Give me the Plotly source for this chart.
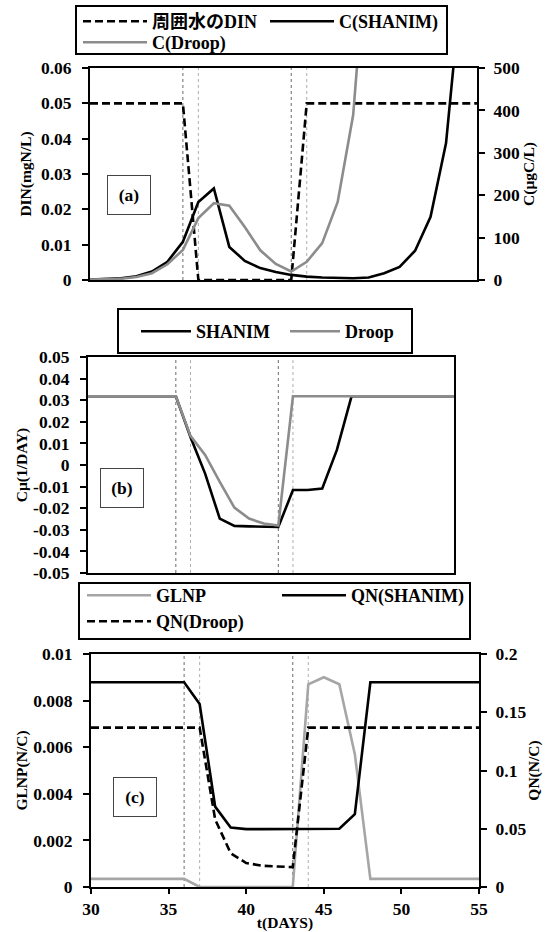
import plotly.graph_objects as go

# ---------------- data ----------------
days = [30, 31, 32, 33, 34, 35, 36, 37, 38, 39, 40, 41, 42, 43,
        44, 45, 46, 47, 48, 49, 50, 51, 52, 53, 54, 55]

# panel (a)
din = [0.05, 0.05, 0.05, 0.05, 0.05, 0.05, 0.05,
       0.0, 0.0, 0.0, 0.0, 0.0, 0.0, 0.0,
       0.05, 0.05, 0.05, 0.05, 0.05, 0.05, 0.05, 0.05, 0.05, 0.05, 0.05, 0.05]
c_shanim = [1, 2, 4, 9, 20, 43, 90, 184, 216, 78, 45, 28, 19, 12,
            8, 6, 5, 4, 6, 16, 31, 69, 149, 323, 700, 1500]
c_droop = [1, 2, 3, 7, 16, 37, 71, 146, 181, 175, 125, 70, 38, 20,
           43, 87, 184, 389, 850]

# panel (b)
mu_shanim = [0.0318, 0.0318, 0.0318, 0.0318, 0.0318, 0.0318, 0.0318,
             0.013, -0.004, -0.0248, -0.0282, -0.0284, -0.0284, -0.0287,
             -0.0116, -0.0116, -0.0109, 0.007,
             0.0318, 0.0318, 0.0318, 0.0318, 0.0318, 0.0318, 0.0318, 0.0318]
mu_droop = [0.0318, 0.0318, 0.0318, 0.0318, 0.0318, 0.0318, 0.0318,
            0.0135, 0.0047, -0.0078, -0.0197, -0.0248, -0.0271, -0.028,
            0.0318, 0.0318, 0.0318, 0.0318, 0.0318, 0.0318, 0.0318, 0.0318,
            0.0318, 0.0318, 0.0318, 0.0318]

# panel (c)
glnp = [0.00035, 0.00035, 0.00035, 0.00035, 0.00035, 0.00035, 0.00035,
        0.0, 0.0, 0.0, 0.0, 0.0, 0.0, 0.0,
        0.0087, 0.0090, 0.0087, 0.0057,
        0.00035, 0.00035, 0.00035, 0.00035, 0.00035, 0.00035, 0.00035, 0.00035]
qn_shanim = [0.1757, 0.1757, 0.1757, 0.1757, 0.1757, 0.1757, 0.1757,
             0.157, 0.069, 0.051, 0.0497, 0.0497, 0.0497, 0.0497,
             0.0497, 0.0497, 0.05, 0.0626,
             0.1757, 0.1757, 0.1757, 0.1757, 0.1757, 0.1757, 0.1757, 0.1757]
qn_droop = [0.1368, 0.1368, 0.1368, 0.1368, 0.1368, 0.1368, 0.1368, 0.1368,
            0.058, 0.029, 0.0206, 0.0183, 0.0176, 0.0171,
            0.1368, 0.1368, 0.1368, 0.1368, 0.1368, 0.1368, 0.1368, 0.1368,
            0.1368, 0.1368, 0.1368, 0.1368]

event_days_dark = [36, 43]
event_days_light = [37, 44]

# tick labels
din_ticks = [0, 0.01, 0.02, 0.03, 0.04, 0.05, 0.06]
din_ticktext = ["0", "0.01", "0.02", "0.03", "0.04", "0.05", "0.06"]
c_ticks = [0, 100, 200, 300, 400, 500]
c_ticktext = ["0", "100", "200", "300", "400", "500"]
mu_ticks = [-0.05, -0.04, -0.03, -0.02, -0.01, 0, 0.01, 0.02, 0.03, 0.04, 0.05]
mu_ticktext = ["-0.05", "-0.04", "-0.03", "-0.02", "-0.01", "0",
               "0.01", "0.02", "0.03", "0.04", "0.05"]
glnp_ticks = [0, 0.002, 0.004, 0.006, 0.008, 0.01]
glnp_ticktext = ["0", "0.002", "0.004", "0.006", "0.008", "0.01"]
qn_ticks = [0, 0.05, 0.1, 0.15, 0.2]
qn_ticktext = ["0", "0.05", "0.1", "0.15", "0.2"]
day_ticks = [30, 35, 40, 45, 50, 55]
day_ticktext = ["30", "35", "40", "45", "50", "55"]

# ---------------- styling ----------------
W, H = 550, 932
ML, MR = 70, 71                     # plot-area margins (px)
GW = W - ML - MR
FAM = "Liberation Serif, 'Noto Sans CJK JP', serif"
TICKF = dict(family=FAM, size=17.5, color="black", weight="bold")
TITLEF = dict(family=FAM, size=15.5, color="black", weight="bold")
LEGF = dict(family=FAM, size=18, color="black", weight="bold")
DARK_GRAY = "#8c8c8c"
LIGHT_GRAY = "#a6a6a6"
LW = 2.6


def px_x(p):
    return (p - ML) / GW


def px_y(p):
    return 1 - p / H


fig = go.Figure()

# panel (a)  (legend rows: "legend" = row 1, "legend4" = row 2)
fig.add_trace(go.Scatter(x=days, y=din, name="周囲水のDIN", mode="lines",
                         line=dict(color="black", width=LW, dash="8px,4px"),
                         xaxis="x", yaxis="y", legend="legend"))
fig.add_trace(go.Scatter(x=days, y=c_shanim, name="C(SHANIM)", mode="lines",
                         line=dict(color="black", width=LW),
                         xaxis="x", yaxis="y2", legend="legend"))
fig.add_trace(go.Scatter(x=days[:len(c_droop)], y=c_droop, name="C(Droop)", mode="lines",
                         line=dict(color=DARK_GRAY, width=LW),
                         xaxis="x", yaxis="y2", legend="legend4"))

# panel (b)
fig.add_trace(go.Scatter(x=days, y=mu_shanim, name="SHANIM", mode="lines",
                         line=dict(color="black", width=LW),
                         xaxis="x2", yaxis="y3", legend="legend2"))
fig.add_trace(go.Scatter(x=days, y=mu_droop, name="Droop", mode="lines",
                         line=dict(color=DARK_GRAY, width=LW),
                         xaxis="x2", yaxis="y3", legend="legend2"))

# panel (c)  (legend rows: "legend3" = row 1, "legend5" = row 2)
fig.add_trace(go.Scatter(x=days, y=glnp, name="GLNP", mode="lines",
                         line=dict(color=LIGHT_GRAY, width=LW),
                         xaxis="x3", yaxis="y4", legend="legend3"))
fig.add_trace(go.Scatter(x=days, y=qn_shanim, name="QN(SHANIM)", mode="lines",
                         line=dict(color="black", width=LW),
                         xaxis="x3", yaxis="y5", legend="legend3"))
fig.add_trace(go.Scatter(x=days, y=qn_droop, name="QN(Droop)", mode="lines",
                         line=dict(color="black", width=LW, dash="8px,4px"),
                         xaxis="x3", yaxis="y5", legend="legend5"))

common_x = dict(range=[30, 55], showgrid=False, zeroline=False, showline=True,
                linecolor="black", linewidth=2, mirror=True, tickfont=TICKF,
                automargin=False)
common_y = dict(showgrid=False, zeroline=False, showline=True, linecolor="black",
                linewidth=2, ticks="outside", ticklen=6, tickwidth=1.5,
                tickcolor="black", tickfont=TICKF, title_font=TITLEF,
                automargin=False)

dom_a = [px_y(280), px_y(68)]
dom_b = [px_y(573), px_y(357)]
dom_c = [px_y(887), px_y(654)]

LEG_COMMON = dict(xanchor="left", yanchor="top", orientation="h",
                  borderwidth=0, bgcolor="rgba(0,0,0,0)",
                  font=LEGF, itemwidth=64, traceorder="normal")

fig.update_layout(
    width=W, height=H, margin=dict(l=ML, r=MR, t=0, b=0, autoexpand=False),
    paper_bgcolor="white", plot_bgcolor="white",
    font=dict(family=FAM, color="black"),
    xaxis=dict(common_x, domain=[px_x(90), px_x(477)], anchor="y",
               showticklabels=False, ticks=""),
    yaxis=dict(common_y, domain=dom_a, anchor="x", range=[0, 0.06],
               tickvals=din_ticks, ticktext=din_ticktext, ticklabelstandoff=7,
               title=dict(text="DIN(mgN/L)", standoff=5)),
    yaxis2=dict(common_y, domain=dom_a, anchor="x", overlaying="y", side="right",
                range=[0, 500], tickvals=c_ticks, ticktext=c_ticktext,
                ticklabelstandoff=5,
                title=dict(text="C(μgC/L)", standoff=3)),
    xaxis2=dict(common_x, domain=[px_x(88), px_x(454)], anchor="y3",
                showticklabels=False, ticks=""),
    yaxis3=dict(common_y, domain=dom_b, anchor="x2", range=[-0.05, 0.05],
                mirror=True, tickvals=mu_ticks, ticktext=mu_ticktext,
                ticklabelstandoff=7,
                title=dict(text="Cμ(1/DAY)", standoff=2)),
    xaxis3=dict(common_x, domain=[px_x(91), px_x(479)], anchor="y4",
                ticks="outside", ticklen=5, tickwidth=1.5, tickcolor="black",
                tickvals=day_ticks, ticktext=day_ticktext, ticklabelstandoff=0,
                title=dict(text="t(DAYS)", font=TITLEF, standoff=5)),
    yaxis4=dict(common_y, domain=dom_c, anchor="x3", range=[0, 0.01],
                tickvals=glnp_ticks, ticktext=glnp_ticktext, ticklabelstandoff=7,
                title=dict(text="GLNP(N/C)", standoff=2)),
    yaxis5=dict(common_y, domain=dom_c, anchor="x3", overlaying="y4", side="right",
                range=[0, 0.2], tickvals=qn_ticks, ticktext=qn_ticktext,
                ticklabelstandoff=5,
                title=dict(text="QN(N/C)", standoff=3)),
    legend=dict(LEG_COMMON, x=px_x(78), y=px_y(3), entrywidth=108),
    legend4=dict(LEG_COMMON, x=px_x(78), y=px_y(24)),
    legend2=dict(LEG_COMMON, x=px_x(136), y=px_y(313), itemwidth=50, entrywidth=84),
    legend3=dict(LEG_COMMON, x=px_x(82), y=px_y(577), entrywidth=116),
    legend5=dict(LEG_COMMON, x=px_x(82), y=px_y(603)),
    showlegend=True,
)

# legend frames
for x0, y0, x1, y1 in [(76, 6, 447, 54), (118, 309, 412, 353), (79, 583, 470, 639)]:
    fig.add_shape(type="rect", xref="paper", yref="paper",
                  x0=px_x(x0), x1=px_x(x1), y0=px_y(y1), y1=px_y(y0),
                  line=dict(color="black", width=2), fillcolor="rgba(0,0,0,0)",
                  layer="above")

# event (vertical dotted) lines on each panel
for xr, yr in [("x", "y"), ("x2", "y3"), ("x3", "y4")]:
    for d in event_days_dark:
        fig.add_shape(type="line", xref=xr, yref=yr + " domain", x0=d, x1=d, y0=0, y1=1,
                      line=dict(color="#444444", width=0.8, dash="dot"), layer="below")
    for d in event_days_light:
        fig.add_shape(type="line", xref=xr, yref=yr + " domain", x0=d, x1=d, y0=0, y1=1,
                      line=dict(color="#999999", width=0.8, dash="dot"), layer="below")

# panel labels
for lab, cx, cy in [("(a)", 129, 195), ("(b)", 122, 488), ("(c)", 135, 797)]:
    fig.add_annotation(text=lab, x=px_x(cx), y=px_y(cy), xref="paper", yref="paper",
                       xanchor="center", yanchor="middle", showarrow=False,
                       font=dict(LEGF, size=17.5), width=40, height=36, borderpad=1,
                       bordercolor="#444444", borderwidth=1, bgcolor="white")

fig.write_html("out.html")
